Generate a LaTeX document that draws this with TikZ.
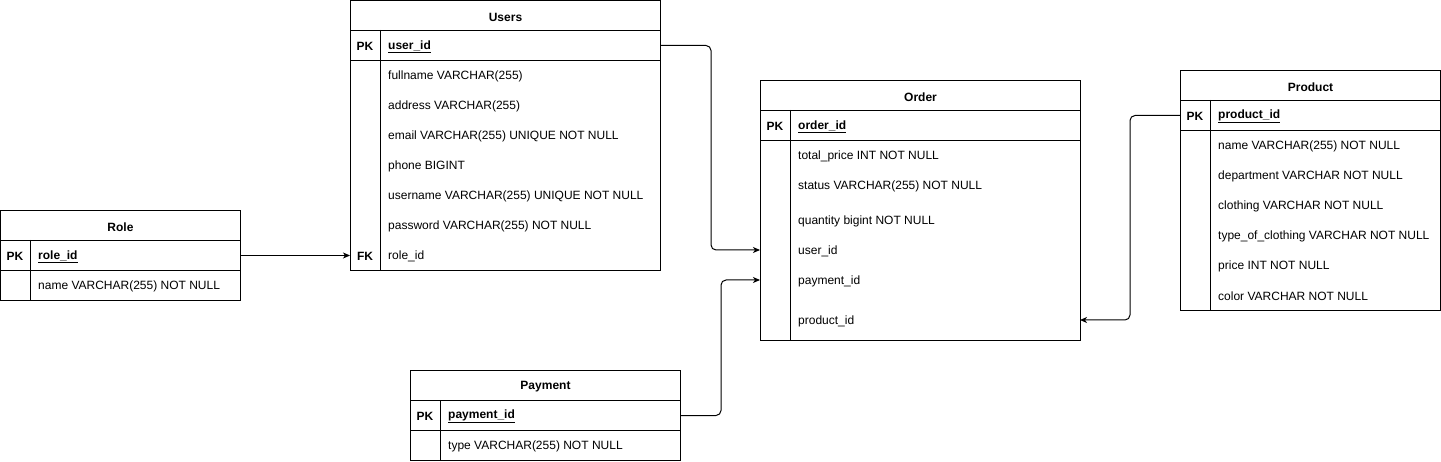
\documentclass[tikz,border=0pt]{standalone}
\usepackage{fontspec}
\setmainfont{Liberation Sans}
\usetikzlibrary{arrows.meta}
\newcommand{\ulkey}[1]{\underline{#1}}
\begin{document}
\begin{tikzpicture}[x=1pt,y=-1pt,
  cell/.style={draw, line width=1pt, inner sep=0pt, anchor=north west, fill=white},
  ttl/.style={font=\fontsize{12}{14}\selectfont\bfseries, yshift=-1.5pt},
  keyt/.style={font=\fontsize{12}{14}\selectfont\bfseries, inner sep=0pt, yshift=-1.5pt},
  fld/.style={font=\fontsize{12}{14}\selectfont, anchor=west, inner sep=0pt, yshift=-1.5pt},
  pkf/.style={font=\fontsize{12}{14}\selectfont\bfseries, anchor=west, inner sep=0pt, yshift=-1.5pt},
  sep/.style={line width=1pt},
  conn/.style={line width=1pt, rounded corners=5pt, -{Stealth[length=7pt,width=6pt,inset=2pt]}}
]
\useasboundingbox (0,0) rectangle (1441,462);

% ---------- Users ----------
\node[cell, minimum width=310pt, minimum height=30pt] (users-title) at (350,0) {};
\node[ttl] (users-name) at (users-title.center) {Users};
\node[cell, minimum width=310pt, minimum height=30pt] (users-pk) at (350,30) {};
\node[cell, minimum width=310pt, minimum height=210pt] (users-body) at (350,60) {};
\draw[sep] (380,30) -- (380,270);
\node[keyt] (users-pkk) at (365,45) {PK};
\node[pkf] (users-uid) at (388,45) {\ulkey{user\_id}};
\node[fld] (users-f1) at (388,75) {fullname VARCHAR(255)};
\node[fld] (users-f2) at (388,105) {address VARCHAR(255)};
\node[fld] (users-f3) at (388,135) {email VARCHAR(255) UNIQUE NOT NULL};
\node[fld] (users-f4) at (388,165) {phone BIGINT};
\node[fld] (users-f5) at (388,195) {username VARCHAR(255) UNIQUE NOT NULL};
\node[fld] (users-f6) at (388,225) {password VARCHAR(255) NOT NULL};
\node[keyt] (users-fk) at (365,255) {FK};
\node[fld] (users-f7) at (388,255) {role\_id};

% ---------- Role ----------
\node[cell, minimum width=240pt, minimum height=30pt] (role-title) at (0,210) {};
\node[ttl] (role-name) at (role-title.center) {Role};
\node[cell, minimum width=240pt, minimum height=30pt] (role-pk) at (0,240) {};
\node[cell, minimum width=240pt, minimum height=30pt] (role-body) at (0,270) {};
\draw[sep] (30,240) -- (30,300);
\node[keyt] (role-pkk) at (15,255) {PK};
\node[pkf] (role-rid) at (38,255) {\ulkey{role\_id}};
\node[fld] (role-f1) at (38,285) {name VARCHAR(255) NOT NULL};

% ---------- Order ----------
\node[cell, minimum width=320pt, minimum height=30pt] (order-title) at (760,80) {};
\node[ttl] (order-name) at (order-title.center) {Order};
\node[cell, minimum width=320pt, minimum height=30pt] (order-pk) at (760,110) {};
\node[cell, minimum width=320pt, minimum height=200pt] (order-body) at (760,140) {};
\draw[sep] (790,110) -- (790,340);
\node[keyt] (order-pkk) at (775,125) {PK};
\node[pkf] (order-oid) at (798,125) {\ulkey{order\_id}};
\node[fld] (order-f1) at (798,155) {total\_price INT NOT NULL};
\node[fld] (order-f2) at (798,185) {status VARCHAR(255) NOT NULL};
\node[fld] (order-f3) at (798,220) {quantity bigint NOT NULL};
\node[fld] (order-uid) at (798,250) {user\_id};
\node[fld] (order-pay) at (798,280) {payment\_id};
\node[fld] (order-prod) at (798,320) {product\_id};
\coordinate (order-uid-in) at (760,250);
\coordinate (order-pay-in) at (760,280);
\coordinate (order-prod-in) at (1080,320);

% ---------- Product ----------
\node[cell, minimum width=260pt, minimum height=30pt] (prod-title) at (1180,70) {};
\node[ttl] (prod-name) at (prod-title.center) {Product};
\node[cell, minimum width=260pt, minimum height=30pt] (prod-pk) at (1180,100) {};
\node[cell, minimum width=260pt, minimum height=180pt] (prod-body) at (1180,130) {};
\draw[sep] (1210,100) -- (1210,310);
\node[keyt] (prod-pkk) at (1195,115) {PK};
\node[pkf] (prod-pid) at (1218,115) {\ulkey{product\_id}};
\node[fld] (prod-f1) at (1218,145) {name VARCHAR(255) NOT NULL};
\node[fld] (prod-f2) at (1218,175) {department VARCHAR NOT NULL};
\node[fld] (prod-f3) at (1218,205) {clothing VARCHAR NOT NULL};
\node[fld] (prod-f4) at (1218,235) {type\_of\_clothing VARCHAR NOT NULL};
\node[fld] (prod-f5) at (1218,265) {price INT NOT NULL};
\node[fld] (prod-f6) at (1218,295) {color VARCHAR NOT NULL};

% ---------- Payment ----------
\node[cell, minimum width=270pt, minimum height=30pt] (pay-title) at (410,370) {};
\node[ttl] (pay-name) at (pay-title.center) {Payment};
\node[cell, minimum width=270pt, minimum height=30pt] (pay-pk) at (410,400) {};
\node[cell, minimum width=270pt, minimum height=30pt] (pay-body) at (410,430) {};
\draw[sep] (440,400) -- (440,460);
\node[keyt] (pay-pkk) at (425,415) {PK};
\node[pkf] (pay-pid) at (448,415) {\ulkey{payment\_id}};
\node[fld] (pay-f1) at (448,445) {type VARCHAR(255) NOT NULL};

% ---------- Connectors ----------
\draw[conn] (role-pk.east) -- (role-pk.east -| users-body.west);
\draw[conn] (users-pk.east) -- ++(50,0) |- (order-uid-in);
\draw[conn] (pay-pk.east) -- ++(40,0) |- (order-pay-in);
\draw[conn] (prod-pk.west) -- ++(-50,0) |- (order-prod-in);
\end{tikzpicture}
\end{document}
